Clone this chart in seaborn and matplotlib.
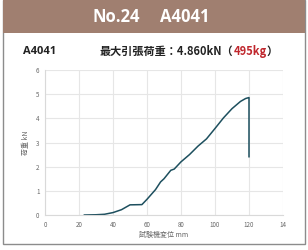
import matplotlib
matplotlib.use("Agg")
import matplotlib.pyplot as plt
import seaborn as sns
import pandas as pd
from matplotlib.patches import Rectangle

displacement = [23, 30, 35, 40, 45, 50, 57, 60, 65, 68, 70, 74, 76, 80, 85, 90, 95, 100, 105, 110, 115, 118, 120, 120]
load = [0.0, 0.01, 0.03, 0.1, 0.22, 0.42, 0.43, 0.65, 1.05, 1.37, 1.5, 1.85, 1.9, 2.2, 2.5, 2.85, 3.15, 3.58, 4.02, 4.4, 4.7, 4.82, 4.86, 2.4]
x_ticks = [0, 20, 40, 60, 80, 100, 120, 140]
x_tick_labels = ["0", "20", "40", "60", "80", "100", "120", "14"]
y_ticks = [0, 1, 2, 3, 4, 5, 6]

df = pd.DataFrame({"disp": displacement, "load": load})

sns.set_style("whitegrid")
plt.rcParams["font.family"] = ["Noto Sans CJK JP", "DejaVu Sans"]

fig = plt.figure(figsize=(3.08, 2.5), dpi=100)
W, H = 308, 250

# outer box and header
fig.patches.append(Rectangle((3 / W, 1 - 244 / H), 302 / W, 244 / H, transform=fig.transFigure,
                             facecolor="white", edgecolor="#8c8c8c", linewidth=1.0, zorder=-2))
fig.patches.append(Rectangle((3 / W, 1 - 33 / H), 302 / W, 33 / H, transform=fig.transFigure,
                             facecolor="#a07f70", edgecolor="none", zorder=-1))
fig.text(116 / W, 1 - 17 / H, "No.24", color="white", fontsize=12, fontweight="bold",
         ha="center", va="center", family=["Open Sans", "DejaVu Sans"])
fig.text(185 / W, 1 - 17 / H, "A4041", color="white", fontsize=12, fontweight="bold",
         ha="center", va="center", family=["Open Sans", "DejaVu Sans"])

fig.text(23 / W, 1 - 51 / H, "A4041", color="#222222", fontsize=8, fontweight="bold",
         ha="left", va="center", family=["Open Sans", "DejaVu Sans"])
t1 = fig.text(100 / W, 1 - 51 / H, "最大引張荷重：4.860kN（", color="#222222", fontsize=8,
              fontweight="bold", ha="left", va="center")
fig.canvas.draw()
r = fig.canvas.get_renderer()
bb = t1.get_window_extent(r)
t2 = fig.text(bb.x1 / W, 1 - 51 / H, "495kg", color="#c0272d", fontsize=8,
              fontweight="bold", ha="left", va="center")
bb2 = t2.get_window_extent(r)
fig.text(bb2.x1 / W, 1 - 51 / H, "）", color="#222222", fontsize=8,
         fontweight="bold", ha="left", va="center")

ax = fig.add_axes([45 / W, 1 - 215 / H, 238 / W, 145 / H])
sns.lineplot(data=df, x="disp", y="load", sort=False, estimator=None, ax=ax,
             color="#1d4f5e", linewidth=1.1)
ax.set_xlim(0, 140)
ax.set_ylim(0, 6)
ax.set_xticks(x_ticks)
ax.set_xticklabels(x_tick_labels)
ax.set_yticks(y_ticks)
ax.tick_params(labelsize=4.5, colors="#666666", pad=4, length=0)
ax.grid(True, color="#e6e6e6", linewidth=0.8)
for s in ax.spines.values():
    s.set_visible(False)
ax.spines["bottom"].set_visible(True)
ax.spines["bottom"].set_color("#d9d9d9")
ax.spines["left"].set_visible(True)
ax.spines["left"].set_color("#d9d9d9")
ax.set_xlabel("試験機変位 mm", fontsize=5, color="#666666", labelpad=2)
ax.set_ylabel("荷重 kN", fontsize=5, color="#666666", labelpad=4)

fig.savefig("out.png", dpi=100)
